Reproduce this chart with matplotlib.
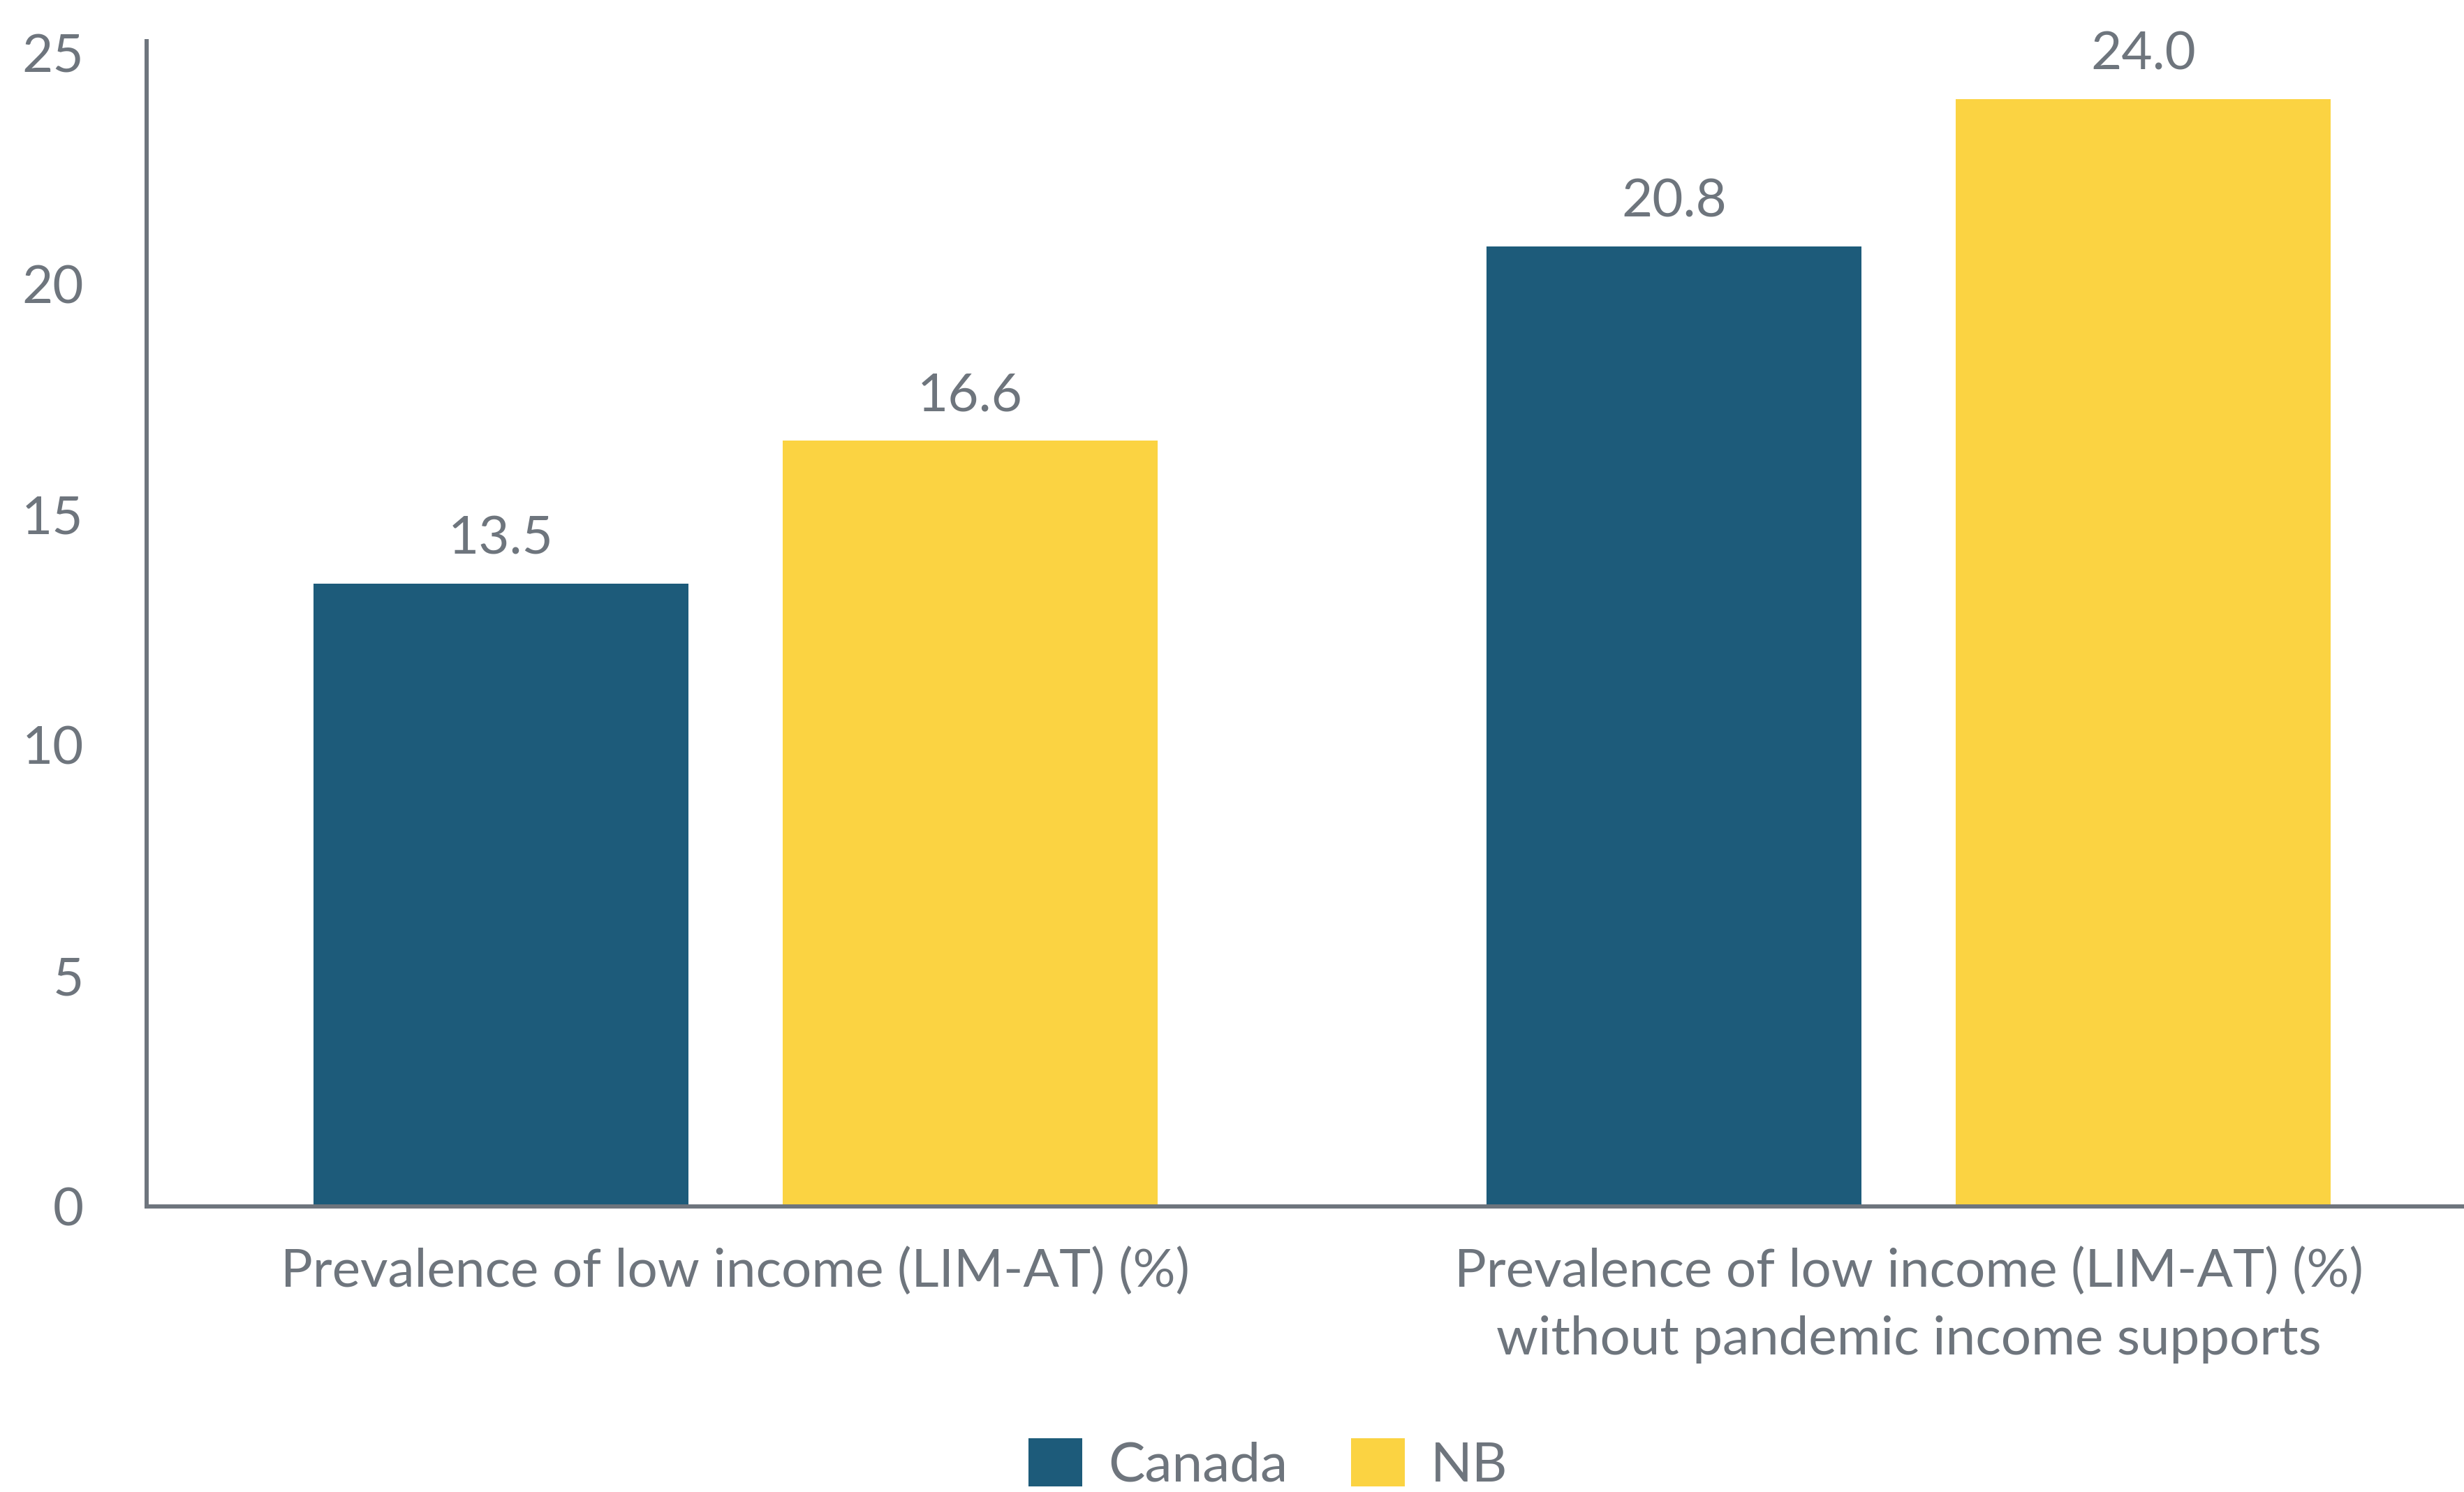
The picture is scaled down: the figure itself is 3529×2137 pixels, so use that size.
import numpy as np
import matplotlib.pyplot as plt

# data
categories = ["Prevalence of low income (LIM-AT) (%)",
              "Prevalence of low income (LIM-AT) (%)\nwithout pandemic income supports"]
canada = [13.5, 20.8]
nb = [16.6, 24.0]
series_names = ["Canada", "NB"]

blue = "#1D5B7A"
yellow = "#FBD342"
grey = "#6E757D"

plt.rcParams['font.family'] = ['Lato', 'DejaVu Sans']
plt.rcParams['font.size'] = 55

fig = plt.figure(figsize=(35.30, 21.37), dpi=100)
ax = fig.add_axes([0.0595, 0.1914, 0.9405, 0.781])

x = np.arange(len(categories))
w = 0.32
b1 = ax.bar(x - 0.2, canada, w, color=blue, label=series_names[0])
b2 = ax.bar(x + 0.2, nb, w, color=yellow, label=series_names[1])

for bars, vals in [(b1, canada), (b2, nb)]:
    for r, v in zip(bars, vals):
        ax.annotate(f"{v:.1f}", (r.get_x() + r.get_width() / 2, v),
                    xytext=(0, 21), textcoords="offset points",
                    ha="center", va="bottom", color=grey)

ax.set_xlim(-0.502, 1.474)
ax.set_ylim(0, 25.25)
ax.set_yticks([0, 5, 10, 15, 20, 25])
ax.set_xticks(x)
ax.set_xticklabels(categories, linespacing=1.5)

for s in ["top", "right"]:
    ax.spines[s].set_visible(False)
for s in ["left", "bottom"]:
    ax.spines[s].set_color(grey)
    ax.spines[s].set_linewidth(4.3)

ax.tick_params(axis="y", length=0, pad=65, colors=grey, labelsize=55)
ax.tick_params(axis="x", length=0, pad=42, colors=grey, labelsize=55)

fig.legend(loc="upper center", bbox_to_anchor=(0.5145, 0.036), ncol=2,
           frameon=False, borderaxespad=0, borderpad=0, handlelength=0.98,
           handleheight=0.98, handletextpad=0.48, columnspacing=1.15,
           labelcolor=grey, fontsize=56.5)

fig.savefig("out.png", dpi=100)
